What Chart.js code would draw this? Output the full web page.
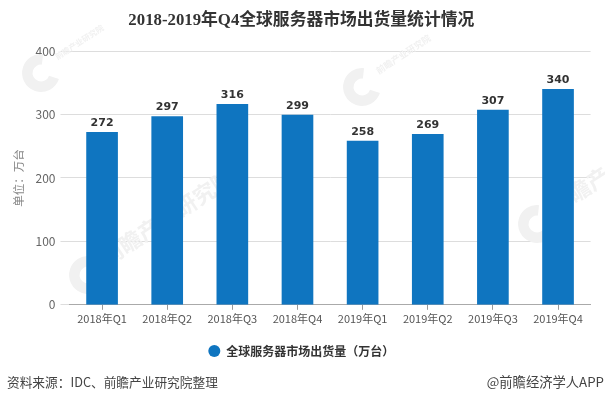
<!DOCTYPE html>
<html><head><meta charset="utf-8">
<style>html,body{margin:0;padding:0;background:#fff;overflow:hidden}#w{position:relative;width:605px;height:403px}</style>
<script src="https://cdn.jsdelivr.net/npm/chart.js@4"></script>
</head><body><div id="w"><canvas id="c" width="605" height="403"></canvas></div>
<script>
const categories=["2018年Q1","2018年Q2","2018年Q3","2018年Q4","2019年Q1","2019年Q2","2019年Q3","2019年Q4"];
const shipments=[272,297,316,299,258,269,307,340];
const yTicks=[0,100,200,300,400];
const seriesName="全球服务器市场出货量（万台）";
const titleText="2018-2019年Q4全球服务器市场出货量统计情况";
const yTitle="单位：万台";
const sourceText="资料来源：IDC、前瞻产业研究院整理";
const creditText="@前瞻经济学人APP";
const watermarkText="前瞻产业研究院";
const SANS='"Noto Sans CJK SC","Noto Sans",sans-serif';
function stamp(ctx,cx,cy,r,size){
 ctx.save();ctx.translate(cx,cy);ctx.rotate(-0.58);
 ctx.strokeStyle='#f1f1f1';ctx.lineWidth=r*0.55;ctx.beginPath();ctx.arc(0,0,r*0.72,0.9,5.4);ctx.stroke();
 ctx.fillStyle='#f1f1f1';ctx.font='bold '+size+'px '+SANS;ctx.textAlign='left';ctx.textBaseline='middle';
 ctx.fillText(watermarkText,r*1.1,-r*0.25);ctx.restore();
}
const extras={id:'extras',
 beforeDatasetsDraw(ch){const {ctx}=ch;
  stamp(ctx,41,73,19,8);stamp(ctx,88,275,19,22);stamp(ctx,362,87,19,9);stamp(ctx,537,224,19,22);},
 afterDatasetsDraw(ch){const {ctx,scales:{x,y}}=ch;ctx.save();
  ctx.font='bold 11px "DejaVu Sans",'+SANS;ctx.fillStyle='#333';ctx.textAlign='center';ctx.textBaseline='alphabetic';
  shipments.forEach((v,i)=>ctx.fillText(String(v),x.getPixelForValue(i),y.getPixelForValue(v)-6));
  ctx.restore();},
 afterDraw(ch){const {ctx}=ch;ctx.save();ctx.textBaseline='middle';ctx.fillStyle='#444';
  ctx.font='12.7px '+SANS;ctx.textAlign='left';ctx.fillText(sourceText,7,382);
  ctx.font='13.3px '+SANS;ctx.textAlign='right';ctx.fillText(creditText,604,382);ctx.restore();}
};
new Chart(document.getElementById('c'),{type:'bar',
 data:{labels:categories,datasets:[{label:seriesName,data:shipments,backgroundColor:'#0f75c0',barThickness:31}]},
 plugins:[extras],
 options:{responsive:false,animation:false,devicePixelRatio:1,
  layout:{padding:{left:12,right:14.4,top:0,bottom:36}},
  plugins:{tooltip:{enabled:false},
   title:{display:true,text:titleText,color:'#333',font:{family:'"Liberation Serif",'+SANS,size:16.8,weight:'bold'},padding:{top:11,bottom:20}},
   legend:{display:true,position:'bottom',labels:{usePointStyle:true,pointStyle:'circle',boxWidth:12,boxHeight:8.5,color:'#333',padding:20,font:{family:SANS,size:12,weight:'bold'}}}},
  scales:{
   x:{afterFit(s){s.height-=2},grid:{offset:false,drawOnChartArea:false,color:'#999',tickLength:5},border:{color:'#aaa'},
      ticks:{color:'#555',font:{family:SANS,size:11},padding:2,maxRotation:0,autoSkip:false}},
   y:{min:0,max:400,afterBuildTicks(s){s.ticks=yTicks.map(v=>({value:v}))},
      afterFit(s){s.width=57.5},
      grid:{color:'#ddd',tickLength:9},border:{display:false},
      ticks:{color:'#666',font:{family:SANS,size:12},padding:5},
      title:{display:true,text:yTitle,color:'#888',font:{family:SANS,size:11.5},padding:0}}
  }}});
</script></body></html>
